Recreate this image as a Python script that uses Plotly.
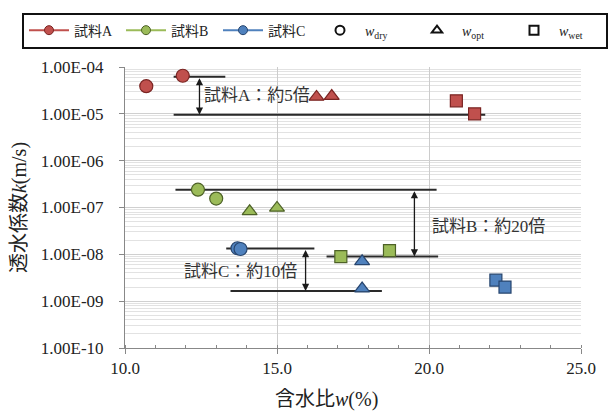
import math
import plotly.graph_objects as go

# ---------------- data ----------------
samples = ["試料A", "試料B", "試料C"]
colors = ["#c0504d", "#9bbb59", "#4f81bd"]
edge_colors = ["#7a2422", "#4d6127", "#27456e"]

# water content w (%) and permeability k (m/s) by sample and state
A_dry_w = [10.7, 11.9];  A_dry_k = [3.9e-5, 6.5e-5]
A_opt_w = [16.3, 16.8];  A_opt_k = [2.3e-5, 2.4e-5]
A_wet_w = [20.9, 21.5];  A_wet_k = [1.9e-5, 1.0e-5]

B_dry_w = [12.4, 13.0];  B_dry_k = [2.4e-7, 1.55e-7]
B_opt_w = [14.1, 15.0];  B_opt_k = [8.3e-8, 9.8e-8]
B_wet_w = [17.1, 18.7];  B_wet_k = [8.9e-9, 1.2e-8]

C_dry_w = [13.7, 13.8];  C_dry_k = [1.35e-8, 1.3e-8]
C_opt_w = [17.8, 17.8];  C_opt_k = [7.1e-9, 1.86e-9]
C_wet_w = [22.2, 22.5];  C_wet_k = [2.8e-9, 2.0e-9]

states = ["dry", "opt", "wet"]
state_symbols = ["circle", "triangle-up", "square"]
state_labels = ["<i>w</i><sub>dry</sub>", "<i>w</i><sub>opt</sub>", "<i>w</i><sub>wet</sub>"]

# reference (range) lines: [w_start, w_end], k
refA_top_w = [11.6, 13.3];   refA_top_k = 6.2e-5
refA_bot_w = [11.6, 21.85];  refA_bot_k = 9.6e-6
refB_top_w = [11.66, 20.25]; refB_top_k = 2.4e-7
refB_bot_w = [16.63, 20.3];  refB_bot_k = 9.0e-9
refC_top_w = [13.33, 16.23]; refC_top_k = 1.33e-8
refC_bot_w = [13.47, 18.45]; refC_bot_k = 1.65e-9

# arrows: w position, k top, k bottom
arrow_w = [12.45, 19.52, 15.94]
arrow_k_top = [refA_top_k, refB_top_k, refC_top_k]
arrow_k_bot = [refA_bot_k, refB_bot_k, refC_bot_k]

# ratio labels
ratio_texts = ["試料A：約5倍", "試料B：約20倍", "試料C：約10倍"]
ratio_w = [12.52, 20.03, 15.72]
ratio_k = [2.45e-5, 4.0e-8, 4.2e-9]
ratio_anchor = ["left", "left", "right"]

ytick_vals = [1e-4, 1e-5, 1e-6, 1e-7, 1e-8, 1e-9, 1e-10]
ytick_text = ["1.00E-04", "1.00E-05", "1.00E-06", "1.00E-07", "1.00E-08", "1.00E-09", "1.00E-10"]
xtick_vals = [10, 15, 20, 25]
xtick_text = ["10.0", "15.0", "20.0", "25.0"]

data = {
    0: [(A_dry_w, A_dry_k), (A_opt_w, A_opt_k), (A_wet_w, A_wet_k)],
    1: [(B_dry_w, B_dry_k), (B_opt_w, B_opt_k), (B_wet_w, B_wet_k)],
    2: [(C_dry_w, C_dry_k), (C_opt_w, C_opt_k), (C_wet_w, C_wet_k)],
}

SERIF = "Liberation Serif, Noto Sans CJK JP"

fig = go.Figure()

# reference lines (behind markers)
for (ws, kv) in [(refA_top_w, refA_top_k), (refA_bot_w, refA_bot_k),
                 (refB_top_w, refB_top_k), (refB_bot_w, refB_bot_k),
                 (refC_top_w, refC_top_k), (refC_bot_w, refC_bot_k)]:
    fig.add_trace(go.Scatter(x=ws, y=[kv, kv], mode="lines",
                             line=dict(color="#2a2a2a", width=2),
                             showlegend=False, hoverinfo="skip"))

# data markers
for si in range(3):
    for st in range(3):
        ws, ks = data[si][st]
        fig.add_trace(go.Scatter(
            x=ws, y=ks, mode="markers", showlegend=False,
            marker=dict(symbol=state_symbols[st],
                        size=13 if st != 2 else 12,
                        color=colors[si],
                        line=dict(color=edge_colors[si], width=1.2))))

# legend entries: samples
for si in range(3):
    fig.add_trace(go.Scatter(
        x=[None], y=[None], mode="lines+markers", name=samples[si],
        line=dict(color=colors[si], width=2),
        marker=dict(symbol="circle", size=9, color=colors[si],
                    line=dict(color=edge_colors[si], width=1))))
# legend entries: states
for st in range(3):
    fig.add_trace(go.Scatter(
        x=[None], y=[None], mode="markers", name=state_labels[st],
        marker=dict(symbol=state_symbols[st] + "-open", size=9,
                    color="#111111", line=dict(width=2))))

annotations = []
for i in range(3):
    annotations.append(dict(
        x=arrow_w[i], y=math.log10(arrow_k_bot[i]),
        ax=arrow_w[i], ay=math.log10(arrow_k_top[i]),
        xref="x", yref="y", axref="x", ayref="y",
        text="", showarrow=True, arrowside="end+start",
        arrowhead=2, arrowsize=1.1, arrowwidth=1.3, arrowcolor="#1a1a1a",
        standoff=0, startstandoff=0))
    annotations.append(dict(
        x=ratio_w[i], y=math.log10(ratio_k[i]), xref="x", yref="y",
        text=ratio_texts[i], showarrow=False, xanchor=ratio_anchor[i],
        yanchor="middle",
        font=dict(family=SERIF, size=17, color="#333333")))

# x-axis title as annotation (offset left of centre as in reference)
annotations.append(dict(
    x=0.442, y=-0.183, xref="paper", yref="paper",
    text="含水比<i>w</i>(%)", showarrow=False,
    xanchor="center", yanchor="middle",
    font=dict(family=SERIF, size=20, color="#222222")))

fig.update_layout(
    width=608, height=412,
    margin=dict(l=125, r=17, t=64, b=64),
    paper_bgcolor="white", plot_bgcolor="white",
    showlegend=True,
    legend=dict(orientation="h", x=-0.2232, y=1.1937, xanchor="left", yanchor="top",
                bgcolor="white", bordercolor="#111111", borderwidth=2,
                font=dict(family=SERIF, size=14, color="#222222"),
                entrywidth=42, entrywidthmode="pixels",
                itemwidth=40, tracegroupgap=0),
    annotations=annotations,
    xaxis=dict(range=[10, 25], tickvals=xtick_vals, ticktext=xtick_text,
               showgrid=True, gridcolor="#cccccc", gridwidth=1,
               showline=True, linecolor="#888888", linewidth=1,
               ticks="outside", ticklen=5, tickcolor="#888888",
               minor=dict(dtick=1, ticks="inside", ticklen=3, tickcolor="#888888",
                          showgrid=False),
               zeroline=False,
               tickfont=dict(family="Liberation Serif", size=17, color="#222222")),
    yaxis=dict(type="log", range=[-10, -4], tickvals=ytick_vals, ticktext=ytick_text,
               showgrid=True, gridcolor="#d0d0d0", gridwidth=1,
               showline=True, linecolor="#888888", linewidth=1,
               ticks="outside", ticklen=5, tickcolor="#888888",
               ticklabelstandoff=12,
               minor=dict(dtick="D1", showgrid=True, gridcolor="#e2e2e2",
                          gridwidth=1, ticks=""),
               zeroline=False,
               tickfont=dict(family="Liberation Serif", size=17, color="#222222"),
               title=dict(text="透水係数<i>k</i>(m/s)", standoff=8,
                          font=dict(family=SERIF, size=20, color="#222222"))),
)

fig.write_html("out.html")
